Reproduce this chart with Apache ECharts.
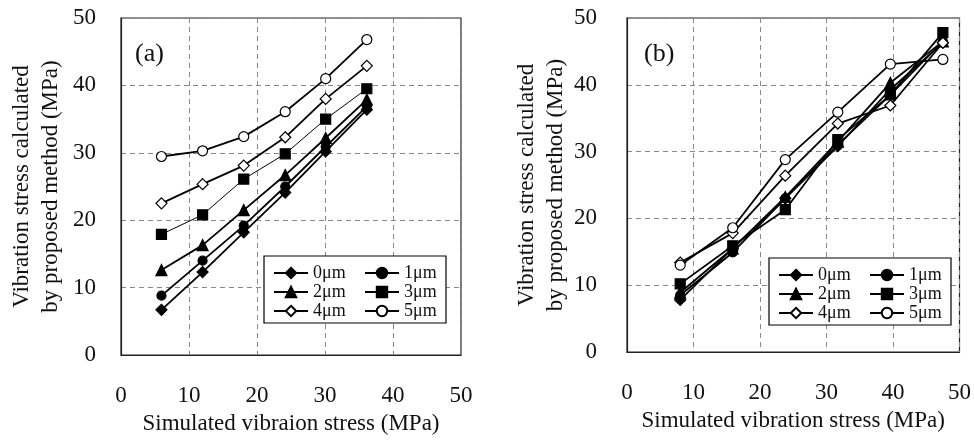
<!DOCTYPE html>
<html><head><meta charset="utf-8">
<script src="https://cdn.jsdelivr.net/npm/echarts@6/dist/echarts.min.js"></script>
<style>html,body{margin:0;padding:0;background:#fff}#c{width:974px;height:440px}</style>
</head><body><div id="c"></div>
<script>
const seriesNames = ['0μm', '1μm', '2μm', '3μm', '4μm', '5μm'];
const xTicks = [0, 10, 20, 30, 40, 50];

// (a) simulated vibration stress vs calculated
const xA = [5.95, 12, 18.05, 24.15, 30.1, 36.15];
const a0 = [6.7, 12.3, 18.2, 24.1, 30.2, 36.4];
const a1 = [8.8, 14.0, 19.2, 25.0, 30.9, 36.9];
const a2 = [12.6, 16.3, 21.5, 26.7, 32.2, 37.9];
const a3 = [17.9, 20.8, 26.1, 29.85, 35.0, 39.5];
const a4 = [22.5, 25.35, 28.1, 32.3, 38.0, 42.9];
const a5 = [29.45, 30.3, 32.4, 36.1, 41.0, 46.8];

// (b)
const xB = [8, 15.9, 23.8, 31.7, 39.6, 47.5];
const b0 = [7.8, 15.5, 23.0, 30.8, 39.3, 46.3];
const b1 = [8.5, 14.9, 23.0, 31.0, 38.5, 46.5];
const b2 = [8.9, 15.5, 23.2, 31.5, 40.3, 46.5];
const b3 = [10.2, 15.9, 21.3, 31.8, 38.5, 47.8];
const b4 = [13.4, 17.8, 26.4, 34.2, 36.9, 46.3];
const b5 = [13.0, 18.6, 28.8, 35.9, 43.1, 43.8];

const FONT = '"Liberation Serif", "Times New Roman", serif';
const symbols = ['diamond', 'circle', 'triangle', 'rect', 'diamond', 'circle'];
const fills = ['#000', '#000', '#000', '#000', '#fff', '#fff'];
const sizes = [11, 9, 11, 10, 11, 10];
const widthsA = [1.8, 1.8, 1.8, 1, 1.8, 1.8];
const widthsB = [1.8, 1.8, 1.8, 1.8, 1.8, 1.8];

function mk(xs, ys, i, gi, lw) {
  return {
    type: 'line', name: seriesNames[i], xAxisIndex: gi, yAxisIndex: gi,
    data: xs.map((x, k) => [x, ys[k]]),
    symbol: symbols[i], symbolSize: sizes[i], showSymbol: true,
    lineStyle: { color: '#000', width: lw },
    itemStyle: { color: fills[i], borderColor: '#000', borderWidth: 1.2 },
    emphasis: { disabled: true }, animation: false, z: 3
  };
}
const series = [];
[a0, a1, a2, a3, a4, a5].forEach((ys, i) => series.push(mk(xA, ys, i, 0, widthsA[i])));
[b0, b1, b2, b3, b4, b5].forEach((ys, i) => series.push(mk(xB, ys, i, 1, widthsB[i])));

function xAxis(gi, name) {
  return {
    type: 'value', gridIndex: gi, min: 0, max: 50, interval: 10,
    axisLine: { show: true, lineStyle: { color: '#222', width: 1.2 } },
    axisTick: { show: false },
    axisLabel: { margin: 29, fontSize: 23, color: '#111', fontFamily: FONT,
      formatter: v => xTicks.includes(v) ? String(v) : '' },
    splitLine: { show: true, lineStyle: { color: '#888', type: [5, 4], width: 1 } },
    name: name, nameLocation: 'middle', nameGap: 57,
    nameTextStyle: { fontSize: 23, color: '#111', fontFamily: FONT }
  };
}
function yAxis(gi, gap) {
  return {
    type: 'value', gridIndex: gi, min: 0, max: 50, interval: 10,
    axisLine: { show: true, lineStyle: { color: '#222', width: 1.2 } },
    axisTick: { show: false },
    axisLabel: { margin: gi === 0 ? 25 : 30, fontSize: 23, color: '#111', fontFamily: FONT },
    splitLine: { show: true, lineStyle: { color: '#888', type: [5, 4], width: 1 } },
    name: 'Vibration stress calculated\nby proposed method (MPa)',
    nameLocation: 'middle', nameRotate: 90, nameGap: gap,
    nameTextStyle: { fontSize: 23, lineHeight: 29, color: '#111', fontFamily: FONT }
  };
}
function legend(left, top) {
  return {
    left: left, top: top, orient: 'horizontal', width: 180,
    itemWidth: 34, itemHeight: 13, itemGap: 1,
    padding: [8, 4, 3, 9],
    backgroundColor: '#fff', borderColor: '#000', borderWidth: 1.2,
    selectedMode: false, z: 10,
    textStyle: { fontSize: 18, lineHeight: 18, color: '#111', fontFamily: FONT },
    data: seriesNames.map((n, i) => ({ name: n, textStyle: { width: i % 2 === 0 ? 50 : 38 } }))
  };
}

const chart = echarts.init(document.getElementById('c'), null, { renderer: 'canvas' });
chart.setOption({
  backgroundColor: '#fff',
  animation: false,
  title: [
    { text: '(a)', left: 130, top: 36, textStyle: { fontSize: 26, fontWeight: 'normal', color: '#111', fontFamily: FONT } },
    { text: '(b)', left: 639, top: 36, textStyle: { fontSize: 26, fontWeight: 'normal', color: '#111', fontFamily: FONT } }
  ],
  grid: [
    { left: 121, top: 18, width: 340, height: 337, show: true, borderColor: '#222', borderWidth: 1.2, backgroundColor: 'transparent' },
    { left: 627, top: 18, width: 336, height: 334, show: true, borderColor: '#222', borderWidth: 1.2, backgroundColor: 'transparent' }
  ],
  xAxis: [xAxis(0, 'Simulated vibraion stress (MPa)'), xAxis(1, 'Simulated vibration stress (MPa)')],
  yAxis: [yAxis(0, 56), yAxis(1, 53)],
  legend: [legend(264, 256), legend(769, 258)],
  series: series
});
</script></body></html>
